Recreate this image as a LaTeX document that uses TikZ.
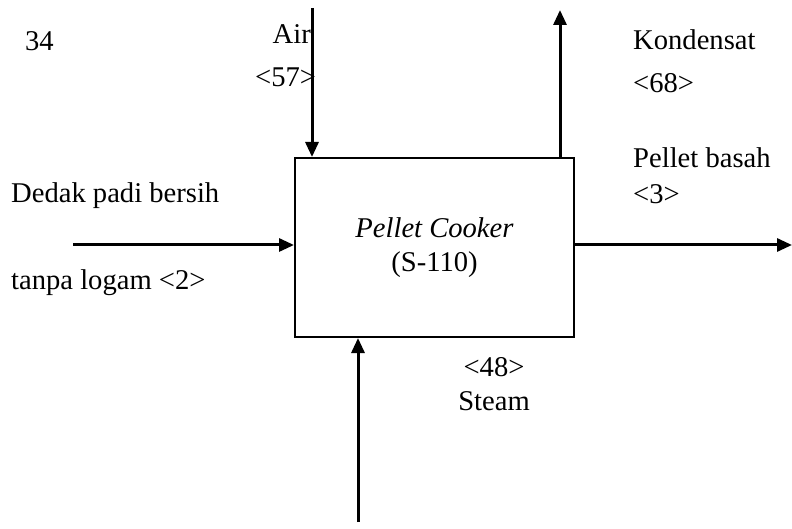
\documentclass[tikz,border=0pt]{standalone}
\usepackage{fontspec}
\setmainfont{Liberation Serif}
\usetikzlibrary{arrows.meta}
\begin{document}
\begin{tikzpicture}[x=1bp,y=-1bp,
  every node/.style={font=\fontsize{28.6bp}{34bp}\selectfont, inner sep=0pt},
  lbl/.style={anchor=mid west},
  flow/.style={line width=3bp, -{Triangle[length=15bp,width=13bp]}},
  unit/.style={draw, line width=2bp, minimum width=279bp, minimum height=179bp, align=center}]
\useasboundingbox (0,0) rectangle (792,529);
\node[unit] (box) at (434.5,247.5) {\textit{Pellet Cooker}\\(S-110)};
\coordinate (airtop) at (312,8);
\coordinate (kondtop) at (560,10);
\coordinate (inleft) at (73,245);
\coordinate (outright) at (792,245);
\coordinate (steambot) at (358,522);
\draw[flow] (airtop) -- (airtop |- box.north);
\draw[flow] (kondtop |- box.north) -- (kondtop);
\draw[flow] (inleft) -- (inleft -| box.west);
\draw[flow] (outright -| box.east) -- (outright);
\draw[flow] (steambot) -- (steambot |- box.south);
\node[lbl] (n34) at (25,48) {34};
\node[anchor=mid east] (air) at (311,41) {Air};
\node[lbl] (a57) at (255,84) {<57>};
\node[lbl] (kond) at (633,47) {Kondensat};
\node[lbl] (k68) at (633,90) {<68>};
\node[lbl] (pb) at (633,165) {Pellet basah};
\node[lbl] (p3) at (633,201) {<3>};
\node[lbl] (ded) at (11,200) {Dedak padi bersih};
\node[lbl] (tan) at (11,287) {tanpa logam <2>};
\node (s48) at (494,367) {<48>};
\node (steam) at (494,401) {Steam};
\end{tikzpicture}
\end{document}
